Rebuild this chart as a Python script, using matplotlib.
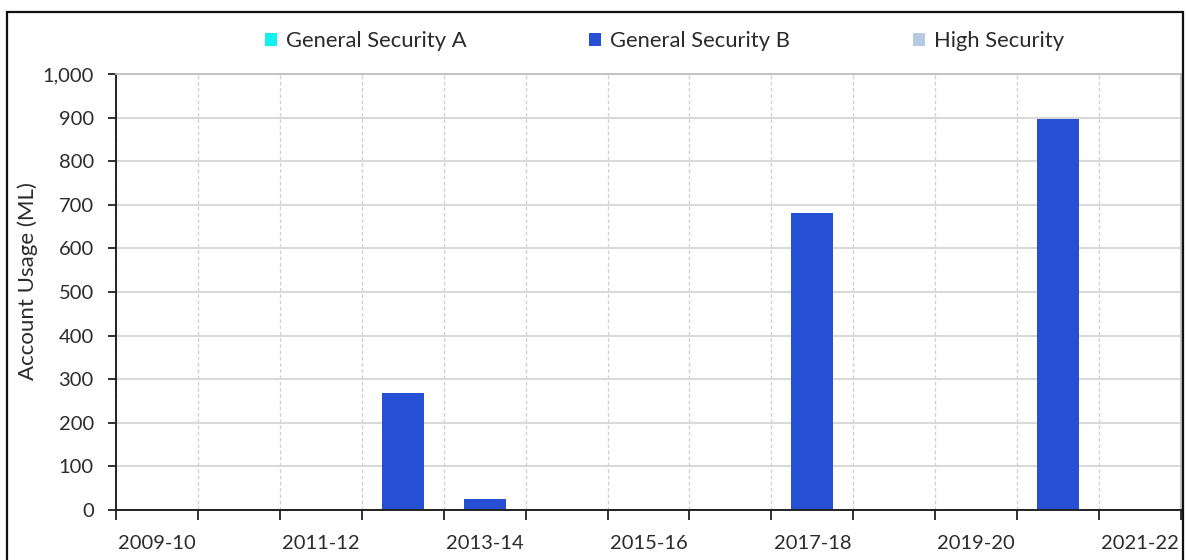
import matplotlib
matplotlib.use("Agg")
import matplotlib.pyplot as plt
import numpy as np
from matplotlib.patches import Patch, Rectangle
from matplotlib.ticker import FuncFormatter, FixedLocator

years = ["2009-10", "2010-11", "2011-12", "2012-13", "2013-14", "2014-15", "2015-16",
         "2016-17", "2017-18", "2018-19", "2019-20", "2020-21", "2021-22"]
general_security_a = [0, 0, 0, 0, 0, 0, 0, 0, 0, 0, 0, 0, 0]
general_security_b = [0, 0, 0, 268, 25, 0, 0, 0, 681, 0, 0, 897, 0]
high_security = [0, 0, 0, 0, 0, 0, 0, 0, 0, 0, 0, 0, 0]
series_names = ["General Security A", "General Security B", "High Security"]
series_colors = ["#11F1F1", "#2650D4", "#B7CAE4"]

plt.rcParams['font.family'] = ['Lato', 'DejaVu Sans']
txt = '#2B2B2B'

fig = plt.figure(figsize=(11.87, 5.6), dpi=100)
ax = fig.add_axes([116/1187, 1 - 510/560, (1181-116)/1187, (510-74)/560])

x = np.arange(len(years))
bottom = np.zeros(len(years))
for vals, name, col in zip([general_security_a, general_security_b, high_security], series_names, series_colors):
    ax.bar(x, vals, width=0.51, bottom=bottom, color=col, label=name, zorder=3)
    bottom += np.array(vals)

ax.set_xlim(-0.5, len(years) - 0.5)
ax.set_ylim(0, 1000)
ax.set_yticks(np.arange(0, 1001, 100))
ax.yaxis.set_major_formatter(FuncFormatter(lambda v, p: f"{int(v):,}"))

# x ticks at category boundaries, labels every other category
ax.xaxis.set_major_locator(FixedLocator(np.arange(-0.5, len(years), 1.0)))
ax.set_xticklabels([])
ax.set_xticks(x[::2], minor=True)
ax.set_xticklabels(years[::2], minor=True)
ax.tick_params(axis='x', which='major', length=7, width=1.3, color='#222222', direction='out')
ax.tick_params(axis='x', which='minor', length=0, pad=18, labelsize=14.5, labelcolor=txt)
ax.tick_params(axis='y', length=6, width=1.3, color='#222222', labelsize=14.5, labelcolor=txt, pad=10)

ax.grid(axis='y', color='#D9D9D9', linewidth=1.5, zorder=0)
ax.grid(axis='x', which='major', color='#CFCFCF', linestyle=(0, (3, 2)), linewidth=0.9, zorder=0)

for s in ['left', 'bottom']:
    ax.spines[s].set_color('#222222')
    ax.spines[s].set_linewidth(1.4)
for s in ['top', 'right']:
    ax.spines[s].set_color('#BFBFBF')
    ax.spines[s].set_linewidth(1.3)
ax.spines['bottom'].set_zorder(4)

ax.set_ylabel("Account Usage (ML)", fontsize=16, color=txt)
ax.yaxis.set_label_coords((38 - 116) / 1065, 0.525)

handles = [Patch(facecolor=c, edgecolor='none') for c in series_colors]
ax.legend(handles, series_names, ncol=3, loc='center', bbox_to_anchor=(0.515, 1.075),
          frameon=False, fontsize=15.8, handlelength=0.55, handleheight=0.55,
          handletextpad=0.4, columnspacing=5.6, labelcolor=txt)

# outer frame
fig.patches.append(Rectangle((7/1187, -0.05), (1183-7)/1187, 1 - 12/560 + 0.05,
                             transform=fig.transFigure, fill=False,
                             edgecolor='#111111', linewidth=1.6, zorder=10))

fig.savefig("out.png", dpi=100)
